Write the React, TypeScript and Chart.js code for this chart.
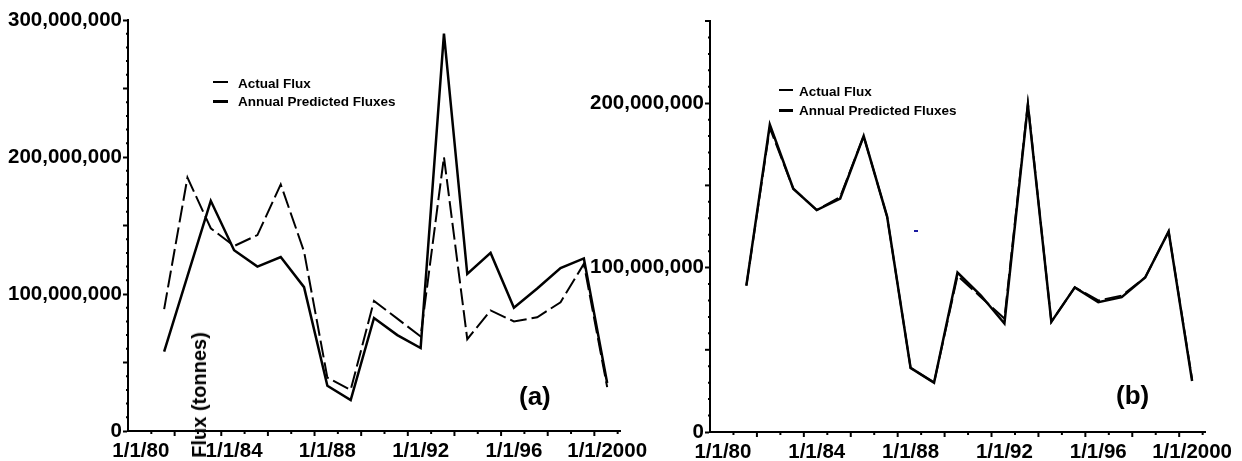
import React, { useEffect, useRef } from "react";
import { Chart, registerables } from "chart.js";

Chart.register(...registerables);

const FONT = "'Liberation Sans', Arial, Helvetica, sans-serif";

// ---- data ----
const years = [1981, 1982, 1983, 1984, 1985, 1986, 1987, 1988, 1989, 1990, 1991, 1992, 1993, 1994, 1995, 1996, 1997, 1998, 1999, 2000];

const actualFlux = [89e6, 185e6, 148e6, 135e6, 143e6, 180e6, 131e6, 39e6, 30e6, 95e6, 82e6, 69e6, 200e6, 67e6, 88e6, 80e6, 83e6, 94e6, 122e6, 32e6];

const predictedA = [58e6, 113e6, 168e6, 132e6, 120e6, 127e6, 105e6, 33e6, 22.6e6, 82.5e6, 70e6, 60.6e6, 290e6, 114.6e6, 130e6, 90e6, 104e6, 119e6, 126e6, 35e6];

const predictedB = [89e6, 187e6, 148e6, 135e6, 142e6, 180e6, 131e6, 39e6, 30e6, 97e6, 83e6, 66e6, 199e6, 67e6, 88e6, 79e6, 82e6, 94e6, 122e6, 31e6];

const xTickYears = [1980, 1984, 1988, 1992, 1996, 2000];
const xTickLabels = ["1/1/80", "1/1/84", "1/1/88", "1/1/92", "1/1/96", "1/1/2000"];

const yTicksA = [0, 100e6, 200e6, 300e6];
const yTicksB = [0, 100e6, 200e6];

const legendLabels = ["Actual Flux", "Annual Predicted Fluxes"];

// ---- helpers ----
const minorTicksPlugin = {
  id: "minorTicks",
  afterDraw(chart: any) {
    const { ctx, chartArea } = chart;
    const xs = chart.scales.x;
    const ys = chart.scales.y;
    ctx.save();
    ctx.strokeStyle = "#000";
    ctx.lineWidth = 2;
    const left = chartArea.left;
    const n = Math.round(ys.max / 1e7);
    for (let i = 0; i <= n; i++) {
      if (i % 10 === 0) continue;
      const v = i * 1e7;
      const len = i % 5 === 0 ? 5 : 2;
      const py = ys.getPixelForValue(v);
      ctx.beginPath();
      ctx.moveTo(left - len, py);
      ctx.lineTo(left, py);
      ctx.stroke();
    }
    const bottom = chartArea.bottom;
    for (let k = 1; xs.min + k <= xs.max; k++) {
      const px = xs.getPixelForValue(xs.min + k);
      const len = k % 2 === 0 ? 5 : 3;
      ctx.beginPath();
      ctx.moveTo(px, bottom);
      ctx.lineTo(px, bottom + len);
      ctx.stroke();
    }
    ctx.restore();
  },
};

function makeConfig(opts: {
  predicted: number[];
  yMax: number;
  yTicks: number[];
  yWidth: number;
  xHeight: number;
  padding: { top: number; right: number; left: number; bottom: number };
}) {
  const toPts = (vals: number[]) => years.map((yr, i) => ({ x: yr, y: vals[i] }));
  return {
    type: "line" as const,
    data: {
      datasets: [
        {
          label: legendLabels[0],
          data: toPts(actualFlux),
          borderColor: "#000",
          borderWidth: 2,
          borderDash: [17, 5],
          pointRadius: 0,
          tension: 0,
          fill: false,
          clip: false as any,
        },
        {
          label: legendLabels[1],
          data: toPts(opts.predicted),
          borderColor: "#000",
          borderWidth: 2.5,
          pointRadius: 0,
          tension: 0,
          fill: false,
          clip: false as any,
        },
      ],
    },
    options: {
      animation: false as const,
      responsive: false,
      maintainAspectRatio: false,
      layout: { padding: opts.padding },
      plugins: { legend: { display: false }, tooltip: { enabled: false } },
      scales: {
        x: {
          type: "linear" as const,
          min: 1979.45,
          max: 2000.55,
          afterBuildTicks: (scale: any) => {
            scale.ticks = xTickYears.map((v) => ({ value: v }));
          },
          afterFit: (scale: any) => {
            scale.height = opts.xHeight;
          },
          grid: { display: false, drawTicks: false },
          border: { display: true, color: "#000", width: 2 },
          ticks: {
            autoSkip: false,
            maxRotation: 0,
            minRotation: 0,
            padding: 8,
            color: "#000",
            font: { family: FONT, size: 20.5, weight: "bold" as const },
            callback: (v: any) => {
              const idx = xTickYears.indexOf(Number(v));
              return idx >= 0 ? xTickLabels[idx] : "";
            },
          },
        },
        y: {
          type: "linear" as const,
          min: 0,
          max: opts.yMax,
          afterBuildTicks: (scale: any) => {
            scale.ticks = opts.yTicks.map((v) => ({ value: v }));
          },
          afterFit: (scale: any) => {
            scale.width = opts.yWidth;
          },
          grid: {
            drawOnChartArea: false,
            drawTicks: true,
            tickLength: 5,
            tickWidth: 2,
            tickColor: "#000",
          },
          border: { display: true, color: "#000", width: 2 },
          ticks: {
            padding: 1,
            color: "#000",
            font: { family: FONT, size: 20.5, weight: "bold" as const },
            callback: (v: any) => Number(v).toLocaleString("en-US"),
          },
        },
      },
    },
    plugins: [minorTicksPlugin],
  };
}

function ChartCanvas(props: { config: any; left: number; width: number }) {
  const ref = useRef<HTMLCanvasElement | null>(null);
  useEffect(() => {
    if (!ref.current) return;
    const chart = new Chart(ref.current, props.config);
    return () => chart.destroy();
  }, []);
  return (
    <canvas
      ref={ref}
      width={props.width}
      height={461}
      style={{ position: "absolute", left: props.left, top: 0, width: props.width, height: 461 }}
    />
  );
}

const textStyle: React.CSSProperties = {
  position: "absolute",
  fontFamily: FONT,
  fontWeight: "bold",
  color: "#000",
  whiteSpace: "nowrap",
};

function Legend(props: { left: number; sampleLeft: number; y1: number; y2: number; sampleW: number }) {
  return (
    <>
      <div style={{ position: "absolute", left: props.sampleLeft, top: props.y1 - 3, width: props.sampleW, height: 1.5, background: "#000" }} />
      <div style={{ ...textStyle, left: props.left, top: props.y1 - 8, fontSize: 13.5, lineHeight: "16px" }}>{legendLabels[0]}</div>
      <div style={{ position: "absolute", left: props.sampleLeft, top: props.y2 - 2, width: props.sampleW, height: 3, background: "#000" }} />
      <div style={{ ...textStyle, left: props.left, top: props.y2 - 8, fontSize: 13.5, lineHeight: "16px" }}>{legendLabels[1]}</div>
    </>
  );
}

export default function App() {
  const configA = makeConfig({
    predicted: predictedA,
    yMax: 300e6,
    yTicks: yTicksA,
    yWidth: 128,
    xHeight: 30,
    padding: { top: 20, right: 40, left: 0, bottom: 0 },
  });
  const configB = makeConfig({
    predicted: predictedB,
    yMax: 250e6,
    yTicks: yTicksB,
    yWidth: 125,
    xHeight: 29,
    padding: { top: 21, right: 37, left: 0, bottom: 0 },
  });
  return (
    <div style={{ position: "fixed", left: 0, top: 0, width: 1242, height: 461, background: "#fff", overflow: "hidden" }}>
      <ChartCanvas config={configA} left={0} width={660} />
      <ChartCanvas config={configB} left={585} width={657} />
      <Legend left={238} sampleLeft={213} y1={84} y2={102} sampleW={15} />
      <Legend left={799} sampleLeft={779} y1={92} y2={111} sampleW={14} />
      <div style={{ ...textStyle, left: 519, top: 396 - 15, fontSize: 26, lineHeight: "30px" }}>(a)</div>
      <div style={{ ...textStyle, left: 1116, top: 395 - 15, fontSize: 26, lineHeight: "30px" }}>(b)</div>
      <div
        style={{
          ...textStyle,
          left: 199,
          top: 395,
          fontSize: 20,
          lineHeight: "22px",
          transform: "translate(-50%, -50%) rotate(-90deg)",
        }}
      >
        Flux (tonnes)
      </div>
      <div style={{ position: "absolute", left: 914, top: 230, width: 4, height: 2, background: "#1a1aa0" }} />
    </div>
  );
}
